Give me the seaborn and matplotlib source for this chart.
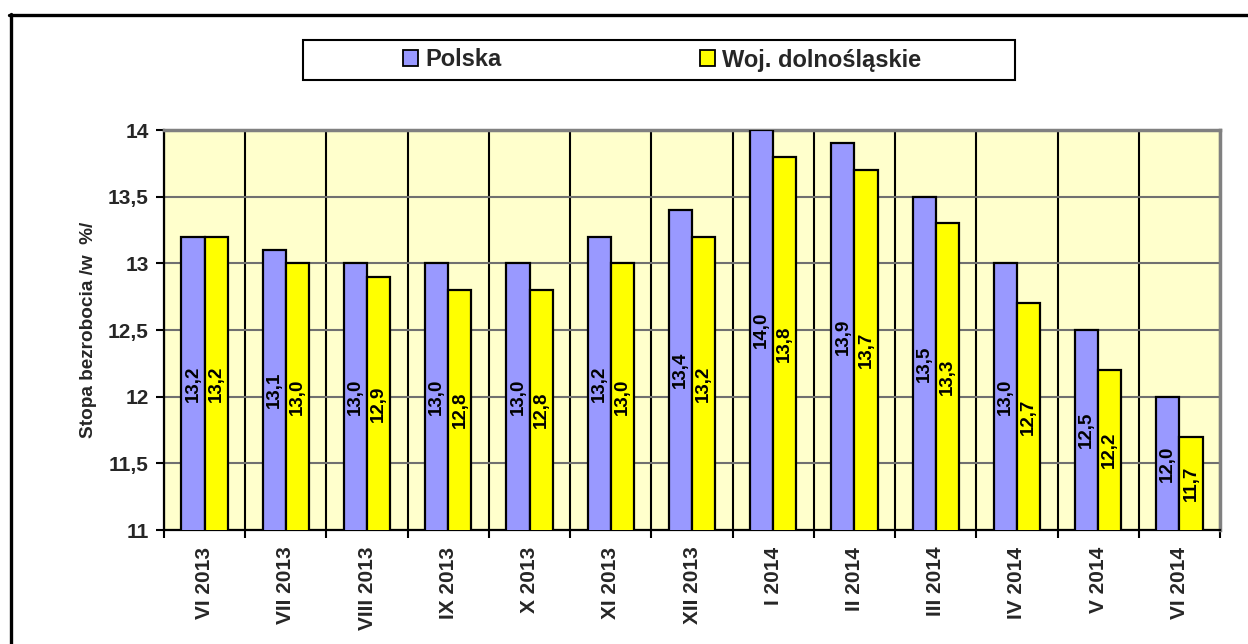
import matplotlib.ticker as mticker
import pandas as pd
import seaborn as sns
from matplotlib import pyplot as plt
from matplotlib.lines import Line2D
from matplotlib.patches import Rectangle

months = ['VI 2013', 'VII 2013', 'VIII 2013', 'IX 2013', 'X 2013', 'XI 2013', 'XII 2013',
          'I 2014', 'II 2014', 'III 2014', 'IV 2014', 'V 2014', 'VI 2014']
polska = [13.2, 13.1, 13.0, 13.0, 13.0, 13.2, 13.4, 14.0, 13.9, 13.5, 13.0, 12.5, 12.0]
dolnoslaskie = [13.2, 13.0, 12.9, 12.8, 12.8, 13.0, 13.2, 13.8, 13.7, 13.3, 12.7, 12.2, 11.7]
series_names = ['Polska', 'Woj. dolnośląskie']
y_ticks = [11, 11.5, 12, 12.5, 13, 13.5, 14]


def pl_num(v, decimals=None):
    if decimals is not None:
        return f'{v:.{decimals}f}'.replace('.', ',')
    return f'{v:g}'.replace('.', ',')


df = pd.DataFrame({
    'Miesiac': months * 2,
    'Stopa': polska + dolnoslaskie,
    'Seria': [series_names[0]] * len(months) + [series_names[1]] * len(months),
})

sns.set_style('white')
plt.rcParams['font.family'] = ['Liberation Sans', 'DejaVu Sans']

fig = plt.figure(figsize=(12.48, 6.44), dpi=100)
ax = fig.add_axes([164 / 1248, 1 - 530 / 644, 1056 / 1248, 400 / 644])
ax.set_facecolor('#FFFFCC')

ax = sns.barplot(data=df, x='Miesiac', y='Stopa', hue='Seria', order=months,
                 hue_order=series_names, palette=['#9999FF', '#FFFF00'],
                 width=0.57, gap=0, edgecolor='black', linewidth=1.6,
                 saturation=1, errorbar=None, ax=ax, zorder=3)

for cont, vals in zip(ax.containers, [polska, dolnoslaskie]):
    ax.bar_label(cont, labels=[pl_num(v, 1) for v in vals], label_type='center',
                 rotation=90, fontsize=13.5, fontweight='bold', color='black', zorder=4)

ax.set_xlim(-0.5, len(months) - 0.5)
ax.set_ylim(11, 14)
ax.set_yticks(y_ticks)
ax.yaxis.set_major_formatter(mticker.FuncFormatter(lambda x, _: pl_num(x)))
ax.set_xticks([i - 0.5 for i in range(len(months) + 1)], minor=True)

ax.set_axisbelow(True)
ax.yaxis.grid(True, color='#707070', lw=1.5)
ax.xaxis.grid(True, which='minor', color='black', lw=1.5)
ax.xaxis.grid(False, which='major')

ax.tick_params(axis='x', which='major', length=0, pad=12, labelrotation=90,
               labelsize=15)
ax.tick_params(axis='x', which='minor', length=6, width=1.5, color='black',
               direction='out', bottom=True)
ax.tick_params(axis='y', length=6, width=1.5, color='black', direction='out',
               left=True, labelsize=15, pad=5)
for lab in ax.get_xticklabels() + ax.get_yticklabels():
    lab.set_fontweight('bold')

ax.set_xlabel('')
ax.set_ylabel('Stopa bezrobocia /w  %/', fontsize=13.7, fontweight='bold', labelpad=8)

for side in ['left', 'bottom']:
    ax.spines[side].set_color('black')
    ax.spines[side].set_linewidth(1.6)
for side in ['top', 'right']:
    ax.spines[side].set_color('#808080')
    ax.spines[side].set_linewidth(2.5)

# legend with its own frame box
handles, labels = ax.get_legend_handles_labels()
ax.get_legend().remove()
fig.add_artist(Rectangle((303 / 1248, 1 - 80 / 644), 712 / 1248, 40 / 644,
                         transform=fig.transFigure, facecolor='white',
                         edgecolor='black', lw=1.5))
leg = fig.legend(handles, labels, loc='center', bbox_to_anchor=(662 / 1248, 1 - 60 / 644),
                 ncol=2, frameon=False, columnspacing=8.4, handlelength=0.64,
                 handleheight=0.64, handletextpad=0.3,
                 prop={'weight': 'bold', 'size': 17})
for h in leg.legend_handles:
    h.set_edgecolor('black')
    h.set_linewidth(1.3)

# outer chart frame (top and left edges visible)
fig.add_artist(Line2D([9 / 1248, 1], [1 - 14.5 / 644] * 2, transform=fig.transFigure,
                      color='black', lw=2.4))
fig.add_artist(Line2D([10.5 / 1248] * 2, [0, 1 - 13.5 / 644], transform=fig.transFigure,
                      color='black', lw=2.4))

fig.savefig('out.png', dpi=100)
